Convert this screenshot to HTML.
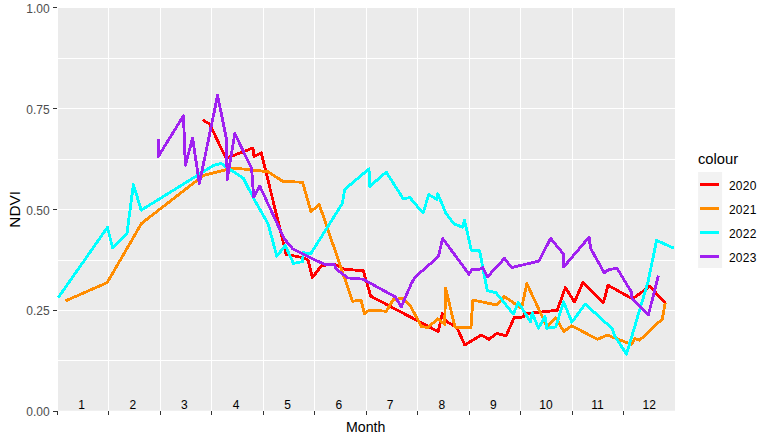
<!DOCTYPE html>
<html lang="en"><head><meta charset="utf-8"><title>NDVI by Month</title>
<style>
html,body{margin:0;padding:0;background:#fff;}
body{width:773px;height:442px;overflow:hidden;}
svg{display:block;}
text{font-family:"Liberation Sans",Arial,sans-serif;}
.tk{font-size:12px;fill:#4d4d4d;}
.mx{font-size:12px;fill:#000;}
.ti{font-size:15.4px;fill:#000;}
.lg{font-size:12px;fill:#000;letter-spacing:0.3px;}
.ln{fill:none;stroke-width:2.85;stroke-linejoin:round;stroke-linecap:butt;}
</style></head><body>
<svg width="773" height="442" viewBox="0 0 773 442">
<rect x="0" y="0" width="773" height="442" fill="#ffffff"/>
<rect x="58.0" y="8.0" width="617.0" height="402.75" fill="#ebebeb"/>
<g fill="#ffffff" shape-rendering="crispEdges">
<rect x="58.0" y="58" width="617.0" height="1"/>
<rect x="58.0" y="108" width="617.0" height="1"/>
<rect x="58.0" y="159" width="617.0" height="1"/>
<rect x="58.0" y="209" width="617.0" height="1"/>
<rect x="58.0" y="260" width="617.0" height="1"/>
<rect x="58.0" y="310" width="617.0" height="1"/>
<rect x="58.0" y="360" width="617.0" height="1"/>
<rect x="108" y="8" width="1" height="403"/>
<rect x="160" y="8" width="1" height="403"/>
<rect x="211" y="8" width="1" height="403"/>
<rect x="263" y="8" width="1" height="403"/>
<rect x="314" y="8" width="1" height="403"/>
<rect x="366" y="8" width="1" height="403"/>
<rect x="417" y="8" width="1" height="403"/>
<rect x="469" y="8" width="1" height="403"/>
<rect x="520" y="8" width="1" height="403"/>
<rect x="572" y="8" width="1" height="403"/>
<rect x="623" y="8" width="1" height="403"/>
</g>
<g class="ln" shape-rendering="crispEdges">
<polyline stroke="#ff0000" points="202.5,119.8 209.6,124.0 226.0,158.3 253.0,148.0 254.0,156.6 261.3,152.8 286.2,254.4 299.8,257.1 307.9,259.8 312.5,277.5 321.5,265.6 334.2,264.2 345.0,269.4 363.2,270.7 370.8,296.2 438.2,331.6 442.4,313.4 446.0,321.2 456.9,327.5 464.8,345.0 481.4,335.0 489.0,339.3 496.8,333.4 506.2,335.7 514.2,317.6 523.4,317.0 524.2,313.8 557.2,310.3 565.4,287.6 574.5,302.0 582.8,282.7 603.5,302.5 608.0,285.2 632.5,298.9 649.8,286.3 665.5,303.4"/>
<polyline stroke="#ff8c00" points="65.5,300.9 107.2,282.6 141.6,223.3 180.0,193.6 195.3,181.7 204.1,175.2 231.8,168.3 236.5,168.3 268.0,171.7 283.1,181.5 302.5,182.2 311.0,211.6 319.3,204.6 352.5,301.2 361.0,300.3 364.5,314.0 369.0,310.1 386.2,311.2 393.5,299.4 402.5,298.4 409.8,304.9 421.5,326.6 427.9,327.5 437.8,318.8 444.7,324.4 445.6,288.0 455.0,327.1 471.0,327.6 472.8,300.0 496.2,304.9 504.4,296.6 521.6,308.3 526.8,283.6 546.9,326.5 555.8,317.8 563.7,331.4 571.9,325.8 597.3,339.3 607.5,335.1 631.5,344.4 634.6,338.7 639.7,340.2 662.3,318.9 665.2,303.1"/>
<polyline stroke="#00ffff" points="58.2,297.7 107.5,227.3 112.6,247.9 126.9,233.8 133.4,184.4 141.2,210.2 214.1,165.1 221.3,163.4 224.1,165.7 230.6,169.9 243.4,178.2 253.6,198.4 268.1,223.8 276.8,256.2 285.3,245.4 293.4,263.4 302.5,261.6 303.4,252.6 310.6,254.0 342.3,203.5 344.7,189.4 369.0,168.9 369.6,186.5 386.2,172.1 403.4,199.0 409.8,197.5 423.0,213.0 428.8,194.7 436.9,199.4 437.8,193.8 446.0,213.4 454.1,223.9 462.3,227.1 464.5,220.0 471.3,250.1 479.6,250.9 487.2,290.4 496.2,292.9 513.3,314.0 518.4,302.4 530.6,322.0 532.2,312.8 538.4,328.2 545.0,316.6 546.9,328.3 555.8,326.9 563.6,301.7 571.9,322.2 585.2,304.0 612.5,328.9 614.3,335.2 626.5,354.2 648.0,281.9 656.6,240.4 673.7,248.1"/>
<polyline stroke="#a020f0" points="158.2,138.7 158.2,156.6 183.5,115.7 185.3,165.3 192.6,138.1 199.4,183.5 217.6,95.4 226.3,138.4 227.2,179.4 234.8,133.6 251.6,168.4 253.7,197.0 259.8,186.1 278.0,225.4 284.4,239.0 292.5,248.6 312.5,258.9 325.1,264.5 334.2,264.2 336.0,268.9 347.8,277.9 363.0,279.2 395.3,296.9 401.3,306.8 411.6,283.0 415.2,277.0 429.7,264.3 438.4,256.2 442.7,238.5 469.0,274.2 472.0,269.3 479.3,269.3 482.7,267.6 487.4,277.0 504.4,258.4 511.6,267.5 538.8,261.2 550.6,238.4 563.2,253.7 563.6,267.1 589.1,237.1 590.6,248.4 604.4,273.0 608.9,269.4 617.1,268.4 631.5,292.2 632.0,298.6 648.4,314.9 658.4,275.6"/>
</g>
<g fill="#333333" shape-rendering="crispEdges">
<rect x="53" y="7" width="4" height="1"/>
<rect x="53" y="108" width="4" height="1"/>
<rect x="53" y="209" width="4" height="1"/>
<rect x="53" y="310" width="4" height="1"/>
<rect x="53" y="411" width="5" height="1"/>
<rect x="57" y="411" width="1" height="4"/>
<rect x="108" y="411" width="1" height="4"/>
<rect x="160" y="411" width="1" height="4"/>
<rect x="211" y="411" width="1" height="4"/>
<rect x="263" y="411" width="1" height="4"/>
<rect x="314" y="411" width="1" height="4"/>
<rect x="366" y="411" width="1" height="4"/>
<rect x="417" y="411" width="1" height="4"/>
<rect x="469" y="411" width="1" height="4"/>
<rect x="520" y="411" width="1" height="4"/>
<rect x="572" y="411" width="1" height="4"/>
<rect x="623" y="411" width="1" height="4"/>
</g>
<text class="tk" text-anchor="end" x="49.6" y="416.05">0.00</text>
<text class="tk" text-anchor="end" x="49.6" y="315.36">0.25</text>
<text class="tk" text-anchor="end" x="49.6" y="214.68">0.50</text>
<text class="tk" text-anchor="end" x="49.6" y="113.99">0.75</text>
<text class="tk" text-anchor="end" x="49.6" y="13.30">1.00</text>
<text class="mx" text-anchor="middle" x="81.7" y="408.7">1</text>
<text class="mx" text-anchor="middle" x="132.9" y="408.7">2</text>
<text class="mx" text-anchor="middle" x="184.3" y="408.7">3</text>
<text class="mx" text-anchor="middle" x="236.2" y="408.7">4</text>
<text class="mx" text-anchor="middle" x="287.5" y="408.7">5</text>
<text class="mx" text-anchor="middle" x="338.8" y="408.7">6</text>
<text class="mx" text-anchor="middle" x="390.1" y="408.7">7</text>
<text class="mx" text-anchor="middle" x="441.9" y="408.7">8</text>
<text class="mx" text-anchor="middle" x="493.4" y="408.7">9</text>
<text class="mx" text-anchor="middle" x="546.0" y="408.7">10</text>
<text class="mx" text-anchor="middle" x="597.4" y="408.7">11</text>
<text class="mx" text-anchor="middle" x="649.2" y="408.7">12</text>
<text class="ti" x="346.0" y="431.8" textLength="39.4" lengthAdjust="spacingAndGlyphs">Month</text>
<text class="ti" text-anchor="middle" transform="translate(20.1,209.3) rotate(-90)">NDVI</text>
<text class="ti" x="697.9" y="163.7" textLength="40.3" lengthAdjust="spacingAndGlyphs">colour</text>
<rect x="698.1" y="172" width="24" height="96" fill="#f2f2f2"/>
<rect x="700" y="183" width="19" height="3" fill="#ff0000" shape-rendering="crispEdges"/>
<text class="lg" x="728.9" y="189.7">2020</text>
<rect x="700" y="207" width="19" height="3" fill="#ff8c00" shape-rendering="crispEdges"/>
<text class="lg" x="728.9" y="213.7">2021</text>
<rect x="700" y="231" width="19" height="3" fill="#00ffff" shape-rendering="crispEdges"/>
<text class="lg" x="728.9" y="237.7">2022</text>
<rect x="700" y="255" width="19" height="3" fill="#a020f0" shape-rendering="crispEdges"/>
<text class="lg" x="728.9" y="261.7">2023</text>
</svg></body></html>
